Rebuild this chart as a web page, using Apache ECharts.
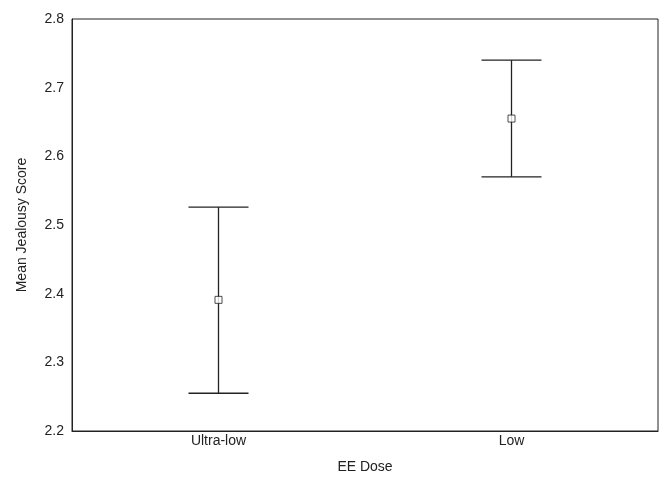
<!DOCTYPE html>
<html>
<head>
<meta charset="utf-8">
<script src="https://cdn.jsdelivr.net/npm/echarts@6/dist/echarts.min.js"></script>
<style>html,body{margin:0;padding:0;background:#fff;overflow:hidden;}#c{width:662px;height:479px;}</style>
</head>
<body>
<div id="c"></div>
<script>
const categories = ['Ultra-low', 'Low'];
const means = [2.391, 2.655];
const lowerCI = [2.255, 2.570];
const upperCI = [2.526, 2.740];
const yTicks = [2.2, 2.3, 2.4, 2.5, 2.6, 2.7, 2.8];

const chart = echarts.init(document.getElementById('c'), null, { width: 662, height: 479 });
const font = 'Liberation Sans, Arial, sans-serif';
const txt = '#222';

const errData = categories.map((c, i) => [i, lowerCI[i], upperCI[i]]);
const meanData = categories.map((c, i) => [i, means[i]]);

chart.setOption({
  animation: false,
  grid: { left: 72, top: 19, width: 586, height: 418, show: true, borderColor: '#222', borderWidth: 1, backgroundColor: '#fff' },
  xAxis: {
    type: 'category',
    data: categories,
    boundaryGap: true,
    name: 'EE Dose',
    nameLocation: 'middle',
    nameGap: 29,
    nameTextStyle: { fontFamily: font, fontSize: 14, color: txt },
    axisLine: { lineStyle: { color: '#222', width: 1 } },
    axisTick: { inside: true, length: 3, alignWithLabel: true, lineStyle: { color: '#222' } },
    axisLabel: { fontFamily: font, fontSize: 14, color: txt, margin: 3 },
    splitLine: { show: false }
  },
  yAxis: {
    type: 'value',
    min: 2.2, max: 2.8, interval: 0.1,
    name: 'Mean Jealousy Score',
    nameLocation: 'middle',
    nameGap: 43,
    nameTextStyle: { fontFamily: font, fontSize: 14, color: txt },
    axisLine: { show: true, lineStyle: { color: '#222', width: 1 } },
    axisTick: { inside: true, length: 3, lineStyle: { color: '#222' } },
    axisLabel: { fontFamily: font, fontSize: 14, color: txt, margin: 8,
      formatter: v => { const t = yTicks.find(x => Math.abs(x - v) < 1e-6); return t !== undefined ? t.toFixed(1) : ''; } },
    splitLine: { show: false }
  },
  series: [
    {
      type: 'custom',
      data: errData,
      renderItem: function (params, api) {
        const x = api.value(0);
        const lo = api.coord([x, api.value(1)]);
        const hi = api.coord([x, api.value(2)]);
        const half = 30;
        const style = { stroke: '#222', lineWidth: 1.3 };
        return {
          type: 'group',
          children: [
            { type: 'line', shape: { x1: lo[0], y1: lo[1], x2: hi[0], y2: hi[1] }, style },
            { type: 'line', shape: { x1: hi[0] - half, y1: hi[1], x2: hi[0] + half, y2: hi[1] }, style },
            { type: 'line', shape: { x1: lo[0] - half, y1: lo[1], x2: lo[0] + half, y2: lo[1] }, style }
          ]
        };
      },
      z: 2
    },
    {
      type: 'scatter',
      data: meanData,
      symbol: 'rect',
      symbolSize: 7,
      itemStyle: { color: '#fff', borderColor: '#222', borderWidth: 1 },
      z: 3
    }
  ]
});
</script>
</body>
</html>
